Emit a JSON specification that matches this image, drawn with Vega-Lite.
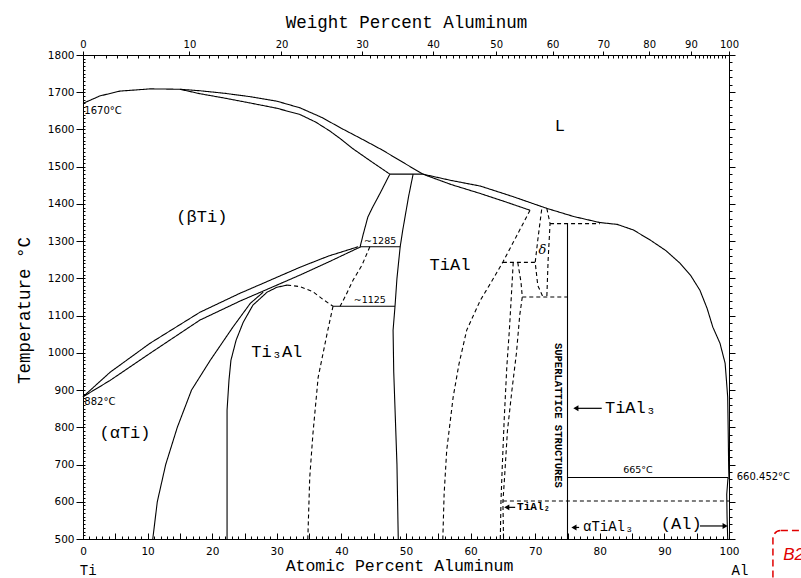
{
"$schema":"https://vega.github.io/schema/vega-lite/v6.json",
"width":646,"height":484,
"autosize":"none",
"padding":{"left":83,"top":55,"right":72,"bottom":39},
"background":"white",
"config":{"view":{"stroke":null},"axis":{"grid":false,"domainColor":"#000","domainWidth":1,"tickColor":"#000","tickWidth":1,"labelColor":"#000","titleColor":"#000","labelFont":"DejaVu Sans","labelFontSize":10.5,"titleFont":"Liberation Mono","titleFontSize":17.5,"titleFontWeight":"normal","labelFlush":false,"labelOverlap":false}},
"datasets":{
"lines":[
{"s":1,"d":"solid","o":1,"a":0,"t":1670},{"s":1,"d":"solid","o":2,"a":2.6,"t":1690},{"s":1,"d":"solid","o":3,"a":5.7,"t":1703},{"s":1,"d":"solid","o":4,"a":10.4,"t":1709},{"s":1,"d":"solid","o":5,"a":15,"t":1708},{"s":1,"d":"solid","o":6,"a":18.1,"t":1704},{"s":1,"d":"solid","o":7,"a":22,"t":1697},{"s":1,"d":"solid","o":8,"a":25.9,"t":1688},{"s":1,"d":"solid","o":9,"a":30,"t":1676},{"s":1,"d":"solid","o":10,"a":33.6,"t":1658},{"s":1,"d":"solid","o":11,"a":37,"t":1632},{"s":1,"d":"solid","o":12,"a":40,"t":1603},{"s":1,"d":"solid","o":13,"a":43.2,"t":1574},{"s":1,"d":"solid","o":14,"a":46.3,"t":1545},{"s":1,"d":"solid","o":15,"a":49.5,"t":1512},{"s":1,"d":"solid","o":16,"a":52.6,"t":1480},
{"s":2,"d":"solid","o":1,"a":15,"t":1708},{"s":2,"d":"solid","o":2,"a":18.1,"t":1696},{"s":2,"d":"solid","o":3,"a":22,"t":1684},{"s":2,"d":"solid","o":4,"a":25.9,"t":1671},{"s":2,"d":"solid","o":5,"a":30,"t":1657},{"s":2,"d":"solid","o":6,"a":33.6,"t":1640},{"s":2,"d":"solid","o":7,"a":36,"t":1620},{"s":2,"d":"solid","o":8,"a":38.2,"t":1596},{"s":2,"d":"solid","o":9,"a":40,"t":1573},{"s":2,"d":"solid","o":10,"a":41.8,"t":1548},{"s":2,"d":"solid","o":11,"a":44.7,"t":1513},{"s":2,"d":"solid","o":12,"a":47.5,"t":1480},
{"s":3,"d":"solid","o":1,"a":47.5,"t":1480},{"s":3,"d":"solid","o":2,"a":52.6,"t":1480},
{"s":4,"d":"solid","o":1,"a":47.5,"t":1480},{"s":4,"d":"solid","o":2,"a":46.0,"t":1429},{"s":4,"d":"solid","o":3,"a":44.8,"t":1390},{"s":4,"d":"solid","o":4,"a":44.1,"t":1365},{"s":4,"d":"solid","o":5,"a":43.4,"t":1320},{"s":4,"d":"solid","o":6,"a":42.9,"t":1285},
{"s":5,"d":"solid","o":1,"a":51.1,"t":1480},{"s":5,"d":"solid","o":2,"a":50.4,"t":1420},{"s":5,"d":"solid","o":3,"a":50.0,"t":1380},{"s":5,"d":"solid","o":4,"a":49.5,"t":1330},{"s":5,"d":"solid","o":5,"a":49.1,"t":1285},{"s":5,"d":"solid","o":6,"a":48.6,"t":1200},{"s":5,"d":"solid","o":7,"a":48.3,"t":1125},{"s":5,"d":"solid","o":8,"a":48.0,"t":1061},{"s":5,"d":"solid","o":9,"a":48.1,"t":950},{"s":5,"d":"solid","o":10,"a":48.4,"t":800},{"s":5,"d":"solid","o":11,"a":48.6,"t":700},{"s":5,"d":"solid","o":12,"a":48.8,"t":500},
{"s":6,"d":"solid","o":1,"a":42.9,"t":1285},{"s":6,"d":"solid","o":2,"a":49.1,"t":1285},
{"s":7,"d":"solid","o":1,"a":38.7,"t":1125},{"s":7,"d":"solid","o":2,"a":48.3,"t":1125},
{"s":8,"d":"solid","o":1,"a":0,"t":882},{"s":8,"d":"solid","o":2,"a":4.2,"t":948},{"s":8,"d":"solid","o":3,"a":10.4,"t":1026},{"s":8,"d":"solid","o":4,"a":18.1,"t":1109},{"s":8,"d":"solid","o":5,"a":24.3,"t":1160},{"s":8,"d":"solid","o":6,"a":27.9,"t":1187},{"s":8,"d":"solid","o":7,"a":33.6,"t":1230},{"s":8,"d":"solid","o":8,"a":38,"t":1260},{"s":8,"d":"solid","o":9,"a":42.6,"t":1285},
{"s":9,"d":"solid","o":1,"a":0,"t":882},{"s":9,"d":"solid","o":2,"a":4.2,"t":926},{"s":9,"d":"solid","o":3,"a":10.4,"t":999},{"s":9,"d":"solid","o":4,"a":18.1,"t":1088},{"s":9,"d":"solid","o":5,"a":24.3,"t":1139},{"s":9,"d":"solid","o":6,"a":27.9,"t":1166},{"s":9,"d":"solid","o":7,"a":33.6,"t":1209},{"s":9,"d":"solid","o":8,"a":38.5,"t":1248},{"s":9,"d":"solid","o":9,"a":43.0,"t":1285},
{"s":10,"d":"solid","o":1,"a":10.8,"t":500},{"s":10,"d":"solid","o":2,"a":11.5,"t":600},{"s":10,"d":"solid","o":3,"a":12.8,"t":700},{"s":10,"d":"solid","o":4,"a":14.6,"t":800},{"s":10,"d":"solid","o":5,"a":16.8,"t":900},{"s":10,"d":"solid","o":6,"a":19.7,"t":980},{"s":10,"d":"solid","o":7,"a":23.2,"t":1069},{"s":10,"d":"solid","o":8,"a":25.9,"t":1133},{"s":10,"d":"solid","o":9,"a":27.9,"t":1163},
{"s":11,"d":"solid","o":1,"a":22.3,"t":500},{"s":11,"d":"solid","o":2,"a":22.3,"t":846},{"s":11,"d":"solid","o":3,"a":22.6,"t":927},{"s":11,"d":"solid","o":4,"a":22.9,"t":980},{"s":11,"d":"solid","o":5,"a":23.7,"t":1034},{"s":11,"d":"solid","o":6,"a":24.8,"t":1082},{"s":11,"d":"solid","o":7,"a":26.3,"t":1128},{"s":11,"d":"solid","o":8,"a":28.5,"t":1163},{"s":11,"d":"solid","o":9,"a":30.0,"t":1176},{"s":11,"d":"solid","o":10,"a":31.6,"t":1182},
{"s":12,"d":"dashed","o":1,"a":31.6,"t":1182},{"s":12,"d":"dashed","o":2,"a":33.6,"t":1178},{"s":12,"d":"dashed","o":3,"a":35.6,"t":1164},{"s":12,"d":"dashed","o":4,"a":37.2,"t":1143},{"s":12,"d":"dashed","o":5,"a":38.7,"t":1125},
{"s":13,"d":"dashed","o":1,"a":44.4,"t":1285},{"s":13,"d":"dashed","o":2,"a":43.2,"t":1236},{"s":13,"d":"dashed","o":3,"a":41.8,"t":1195},{"s":13,"d":"dashed","o":4,"a":40.7,"t":1155},{"s":13,"d":"dashed","o":5,"a":39.8,"t":1125},
{"s":14,"d":"dashed","o":1,"a":38.7,"t":1125},{"s":14,"d":"dashed","o":2,"a":37.8,"t":1053},{"s":14,"d":"dashed","o":3,"a":36.4,"t":934},{"s":14,"d":"dashed","o":4,"a":35.6,"t":784},{"s":14,"d":"dashed","o":5,"a":35.1,"t":666},{"s":14,"d":"dashed","o":6,"a":34.8,"t":500},
{"s":15,"d":"solid","o":1,"a":52.6,"t":1480},{"s":15,"d":"solid","o":2,"a":57,"t":1463},{"s":15,"d":"solid","o":3,"a":61.5,"t":1448},{"s":15,"d":"solid","o":4,"a":66.5,"t":1420},{"s":15,"d":"solid","o":5,"a":71.8,"t":1388},{"s":15,"d":"solid","o":6,"a":76,"t":1366},{"s":15,"d":"solid","o":7,"a":80,"t":1350},{"s":15,"d":"solid","o":8,"a":82.7,"t":1345},{"s":15,"d":"solid","o":9,"a":85.2,"t":1330},{"s":15,"d":"solid","o":10,"a":87.8,"t":1303},{"s":15,"d":"solid","o":11,"a":90.2,"t":1275},{"s":15,"d":"solid","o":12,"a":92.4,"t":1241},{"s":15,"d":"solid","o":13,"a":94.1,"t":1207},{"s":15,"d":"solid","o":14,"a":95.5,"t":1168},{"s":15,"d":"solid","o":15,"a":96.6,"t":1120},{"s":15,"d":"solid","o":16,"a":97.5,"t":1069},{"s":15,"d":"solid","o":17,"a":98.6,"t":1026},{"s":15,"d":"solid","o":18,"a":99.4,"t":972},{"s":15,"d":"solid","o":19,"a":99.8,"t":881},{"s":15,"d":"solid","o":20,"a":99.9,"t":760},{"s":15,"d":"solid","o":21,"a":99.95,"t":690},{"s":15,"d":"solid","o":22,"a":100,"t":660.452},
{"s":16,"d":"solid","o":1,"a":52.6,"t":1480},{"s":16,"d":"solid","o":2,"a":57,"t":1452},{"s":16,"d":"solid","o":3,"a":61.5,"t":1428},{"s":16,"d":"solid","o":4,"a":65.5,"t":1405},{"s":16,"d":"solid","o":5,"a":69.2,"t":1383},
{"s":17,"d":"dashed","o":1,"a":69.2,"t":1383},{"s":17,"d":"dashed","o":2,"a":67,"t":1310},{"s":17,"d":"dashed","o":3,"a":65,"t":1244},{"s":17,"d":"dashed","o":4,"a":63.2,"t":1190},{"s":17,"d":"dashed","o":5,"a":61.5,"t":1141},{"s":17,"d":"dashed","o":6,"a":59.4,"t":1061},{"s":17,"d":"dashed","o":7,"a":58.2,"t":970},{"s":17,"d":"dashed","o":8,"a":57.3,"t":881},{"s":17,"d":"dashed","o":9,"a":56.3,"t":738},{"s":17,"d":"dashed","o":10,"a":55.9,"t":620},{"s":17,"d":"dashed","o":11,"a":55.7,"t":500},
{"s":18,"d":"dashed","o":1,"a":65,"t":1243},{"s":18,"d":"dashed","o":2,"a":70,"t":1243},
{"s":19,"d":"dashed","o":1,"a":71.0,"t":1385},{"s":19,"d":"dashed","o":2,"a":70.4,"t":1303},{"s":19,"d":"dashed","o":3,"a":70.0,"t":1243},{"s":19,"d":"dashed","o":4,"a":70.4,"t":1181},{"s":19,"d":"dashed","o":5,"a":71.2,"t":1150},
{"s":20,"d":"dashed","o":1,"a":71.8,"t":1388},{"s":20,"d":"dashed","o":2,"a":72.3,"t":1347},{"s":20,"d":"dashed","o":3,"a":72.0,"t":1249},{"s":20,"d":"dashed","o":4,"a":71.8,"t":1150},
{"s":21,"d":"dashed","o":1,"a":72.3,"t":1347},{"s":21,"d":"dashed","o":2,"a":80,"t":1347},
{"s":22,"d":"solid","o":1,"a":75,"t":1347},{"s":22,"d":"solid","o":2,"a":75,"t":500},
{"s":23,"d":"dashed","o":1,"a":68,"t":1150},{"s":23,"d":"dashed","o":2,"a":75,"t":1150},
{"s":24,"d":"dashed","o":1,"a":66.6,"t":1243},{"s":24,"d":"dashed","o":2,"a":66.3,"t":1150},{"s":24,"d":"dashed","o":3,"a":66.0,"t":1061},{"s":24,"d":"dashed","o":4,"a":65.6,"t":961},{"s":24,"d":"dashed","o":5,"a":65.2,"t":820},{"s":24,"d":"dashed","o":6,"a":64.9,"t":693},{"s":24,"d":"dashed","o":7,"a":64.7,"t":600},{"s":24,"d":"dashed","o":8,"a":64.6,"t":500},
{"s":25,"d":"dashed","o":1,"a":67.3,"t":1243},{"s":25,"d":"dashed","o":2,"a":67.8,"t":1190},{"s":25,"d":"dashed","o":3,"a":68.0,"t":1150},{"s":25,"d":"dashed","o":4,"a":67.6,"t":1100},{"s":25,"d":"dashed","o":5,"a":67.1,"t":1000},{"s":25,"d":"dashed","o":6,"a":66.4,"t":900},{"s":25,"d":"dashed","o":7,"a":65.7,"t":790},{"s":25,"d":"dashed","o":8,"a":65.2,"t":650},{"s":25,"d":"dashed","o":9,"a":65.0,"t":600},{"s":25,"d":"dashed","o":10,"a":65.1,"t":500},
{"s":26,"d":"dashed","o":1,"a":65,"t":602},{"s":26,"d":"dashed","o":2,"a":100,"t":602},
{"s":27,"d":"solid","o":1,"a":75,"t":665},{"s":27,"d":"solid","o":2,"a":99.85,"t":665},
{"s":28,"d":"solid","o":1,"a":99.85,"t":665},{"s":28,"d":"solid","o":2,"a":99.65,"t":620},{"s":28,"d":"solid","o":3,"a":99.7,"t":560},{"s":28,"d":"solid","o":4,"a":99.8,"t":500}
],
"labels":[
{"k":"region","txt":"(βTi)","a":18.4,"t":1365},
{"k":"region","txt":"L","a":73.8,"t":1609},
{"k":"region","txt":"TiAl","a":56.8,"t":1236},
{"k":"region","txt":"Ti₃Al","a":30.0,"t":1002},
{"k":"region","txt":"(αTi)","a":6.5,"t":784},
{"k":"region","txt":"(Al)","a":92.6,"t":541},
{"k":"regionL","txt":"TiAl₃","a":80.8,"t":851},
{"k":"medL","txt":"αTiAl₃","a":77.4,"t":531},
{"k":"temp","txt":"1670°C","a":0.2,"t":1649},
{"k":"temp","txt":"882°C","a":0.2,"t":867},
{"k":"temp","txt":"660.452°C","a":101.2,"t":666},
{"k":"tempC","txt":"665°C","a":85.9,"t":684},
{"k":"tempC","txt":"~1285","a":46.0,"t":1300},
{"k":"tempC","txt":"~1125","a":44.4,"t":1141},
{"k":"tial2","txt":"TiAl₂","a":67.2,"t":585},
{"k":"delta","txt":"δ","a":71.1,"t":1276},
{"k":"vert","txt":"SUPERLATTICE STRUCTURES","a":73.5,"t":832},
{"k":"elem","txt":"Ti","a":0.8,"t":413},
{"k":"elem","txt":"Al","a":101.7,"t":413},
{"k":"b2","txt":"B2","a":108.4,"t":456}
],
"arrows":[
{"a":76.6,"a2":80.3,"t":851},
{"a":65.8,"a2":66.9,"t":585},
{"a":76.0,"a2":76.8,"t":531},
{"a":95.5,"a2":99.3,"t":535}
],
"heads":[
{"a":76.3,"t":851,"dir":"left"},
{"a":65.6,"t":585,"dir":"left"},
{"a":76.0,"t":531,"dir":"left"},
{"a":99.4,"t":535,"dir":"right"}
],
"box":[{"a":106.8,"a2":130,"t":523,"t2":350}]
},
"resolve":{"axis":{"x":"independent","y":"independent"}},
"layer":[
{"data":{"name":"lines"},"mark":{"type":"line","color":"#000","strokeWidth":1.1,"clip":false},
"encoding":{
"x":{"field":"a","type":"quantitative","scale":{"domain":[0,100],"nice":false,"zero":false},"axis":{"orient":"bottom","values":[0,10,20,30,40,50,60,70,80,90,100],"ticks":false,"labelPadding":7,"title":"Atomic Percent Aluminum","titleFontSize":16.5,"titlePadding":1,"titleX":316}},
"y":{"field":"t","type":"quantitative","scale":{"domain":[500,1800],"nice":false,"zero":false},"axis":{"orient":"left","format":"d","values":[500,600,700,800,900,1000,1100,1200,1300,1400,1500,1600,1700,1800],"tickSize":7,"labelPadding":2,"title":"Temperature °C","titlePadding":14,"titleY":255}},
"detail":{"field":"s","type":"nominal"},
"order":{"field":"o","type":"quantitative"},
"strokeDash":{"field":"d","type":"nominal","scale":{"domain":["solid","dashed"],"range":[[1,0],[4,3]]},"legend":null}
}},
{"data":{"name":"heads"},"mark":{"type":"point","opacity":0},
"encoding":{
"x":{"field":"a","type":"quantitative","scale":{"domain":[0,100],"nice":false,"zero":false},"axis":{"orient":"bottom","values":[0,1,2,3,4,5,6,7,8,9,10,11,12,13,14,15,16,17,18,19,20,21,22,23,24,25,26,27,28,29,30,31,32,33,34,35,36,37,38,39,40,41,42,43,44,45,46,47,48,49,50,51,52,53,54,55,56,57,58,59,60,61,62,63,64,65,66,67,68,69,70,71,72,73,74,75,76,77,78,79,80,81,82,83,84,85,86,87,88,89,90,91,92,93,94,95,96,97,98,99,100],"tickSize":-3,"labels":false,"domain":false,"title":null}},
"y":{"field":"t","type":"quantitative","scale":{"domain":[500,1800],"nice":false,"zero":false},"axis":{"orient":"left","values":[500,510,520,530,540,550,560,570,580,590,600,610,620,630,640,650,660,670,680,690,700,710,720,730,740,750,760,770,780,790,800,810,820,830,840,850,860,870,880,890,900,910,920,930,940,950,960,970,980,990,1000,1010,1020,1030,1040,1050,1060,1070,1080,1090,1100,1110,1120,1130,1140,1150,1160,1170,1180,1190,1200,1210,1220,1230,1240,1250,1260,1270,1280,1290,1300,1310,1320,1330,1340,1350,1360,1370,1380,1390,1400,1410,1420,1430,1440,1450,1460,1470,1480,1490,1500,1510,1520,1530,1540,1550,1560,1570,1580,1590,1600,1610,1620,1630,1640,1650,1660,1670,1680,1690,1700,1710,1720,1730,1740,1750,1760,1770,1780,1790,1800],"tickSize":-2,"labels":false,"domain":false,"title":null}}
}},
{"data":{"name":"heads"},"mark":{"type":"point","opacity":0},
"encoding":{
"x":{"field":"a","type":"quantitative","scale":{"domain":[0,100],"nice":false,"zero":false},"axis":{"orient":"bottom","values":[0,5,10,15,20,25,30,35,40,45,50,55,60,65,70,75,80,85,90,95,100],"tickSize":-6,"labels":false,"domain":false,"title":null}},
"y":{"field":"t","type":"quantitative","scale":{"domain":[500,1800],"nice":false,"zero":false},"axis":{"orient":"right","values":[500,520,540,560,580,600,620,640,660,680,700,720,740,760,780,800,820,840,860,880,900,920,940,960,980,1000,1020,1040,1060,1080,1100,1120,1140,1160,1180,1200,1220,1240,1260,1280,1300,1320,1340,1360,1380,1400,1420,1440,1460,1480,1500,1520,1540,1560,1580,1600,1620,1640,1660,1680,1700,1720,1740,1760,1780,1800],"tickSize":3,"labels":false,"domain":true,"title":null}}
}},
{"data":{"name":"heads"},"mark":{"type":"point","opacity":0},
"encoding":{
"x":{"field":"a","type":"quantitative","scale":{"domain":[0,100],"nice":false,"zero":false},"axis":{"orient":"top","values":[0,16.468,30.727,43.195,54.188,63.955,72.688,80.545,87.65,94.107,100],"tickSize":4,"labelPadding":2,"labelFontSize":10,"labelExpr":"datum.value < 1 ? '0' : datum.value < 20 ? '10' : datum.value < 35 ? '20' : datum.value < 50 ? '30' : datum.value < 60 ? '40' : datum.value < 68 ? '50' : datum.value < 76 ? '60' : datum.value < 84 ? '70' : datum.value < 90 ? '80' : datum.value < 97 ? '90' : '100'","title":"Weight Percent Aluminum","titlePadding":8,"domain":true}},
"y":{"field":"t","type":"quantitative","scale":{"domain":[500,1800],"nice":false,"zero":false},"axis":{"orient":"right","values":[500,600,700,800,900,1000,1100,1200,1300,1400,1500,1600,1700,1800],"tickSize":6,"labels":false,"domain":false,"title":null}}
}},
{"data":{"name":"heads"},"mark":{"type":"point","opacity":0},
"encoding":{
"x":{"field":"a","type":"quantitative","scale":{"domain":[0,100],"nice":false,"zero":false},"axis":{"orient":"top","values":[1.761,3.494,5.202,6.884,8.541,10.173,11.781,13.366,14.928,17.985,19.481,20.956,22.411,23.845,25.259,26.654,28.031,29.388,32.049,33.353,34.64,35.91,37.163,38.401,39.622,40.828,42.019,44.356,45.503,46.635,47.755,48.859,49.951,51.029,52.095,53.147,55.217,56.233,57.237,58.23,59.212,60.182,61.142,62.09,63.027,64.872,65.778,66.675,67.562,68.44,69.308,70.167,71.016,71.857,73.511,74.326,75.131,75.929,76.718,77.499,78.271,79.037,79.795,81.287,82.022,82.75,83.471,84.184,84.891,85.59,86.283,86.97,88.324,88.991,89.652,90.306,90.955,91.597,92.233,92.863,93.488,94.72,95.327,95.93,96.527,97.119,97.705,98.287,98.863,99.434],"tickSize":-3,"labels":false,"domain":false,"title":null}},
"y":{"field":"t","type":"quantitative","scale":{"domain":[500,1800],"nice":false,"zero":false},"axis":null}
}},
{"data":{"name":"arrows"},"mark":{"type":"rule","color":"#000","strokeWidth":1.2,"clip":false},
"encoding":{
"x":{"field":"a","type":"quantitative","scale":{"domain":[0,100],"nice":false,"zero":false},"axis":null},
"x2":{"field":"a2"},
"y":{"field":"t","type":"quantitative","scale":{"domain":[500,1800],"nice":false,"zero":false},"axis":null}
}},
{"data":{"name":"heads"},"mark":{"type":"point","filled":true,"color":"#000","opacity":1,"size":35,"clip":false},
"encoding":{
"x":{"field":"a","type":"quantitative","scale":{"domain":[0,100],"nice":false,"zero":false},"axis":null},
"y":{"field":"t","type":"quantitative","scale":{"domain":[500,1800],"nice":false,"zero":false},"axis":null},
"shape":{"field":"dir","type":"nominal","scale":{"domain":["left","right"],"range":["triangle-left","triangle-right"]},"legend":null}
}},
{"data":{"name":"box"},"mark":{"type":"rect","fill":null,"fillOpacity":0,"stroke":"#e00000","strokeWidth":1.5,"strokeDash":[7,4],"cornerRadius":8,"clip":false},
"encoding":{
"x":{"field":"a","type":"quantitative","scale":{"domain":[0,100],"nice":false,"zero":false},"axis":null},
"x2":{"field":"a2"},
"y":{"field":"t","type":"quantitative","scale":{"domain":[500,1800],"nice":false,"zero":false},"axis":null},
"y2":{"field":"t2"}
}},
{"data":{"name":"labels"},"transform":[{"filter":"datum.k === 'region'"}],"mark":{"type":"text","font":"Liberation Mono","fontSize":17,"align":"center","baseline":"middle","color":"#000"},
"encoding":{"x":{"field":"a","type":"quantitative","scale":{"domain":[0,100],"nice":false,"zero":false},"axis":null},"y":{"field":"t","type":"quantitative","scale":{"domain":[500,1800],"nice":false,"zero":false},"axis":null},"text":{"field":"txt"}}},
{"data":{"name":"labels"},"transform":[{"filter":"datum.k === 'regionL'"}],"mark":{"type":"text","font":"Liberation Mono","fontSize":17,"align":"left","baseline":"middle","color":"#000"},
"encoding":{"x":{"field":"a","type":"quantitative","scale":{"domain":[0,100],"nice":false,"zero":false},"axis":null},"y":{"field":"t","type":"quantitative","scale":{"domain":[500,1800],"nice":false,"zero":false},"axis":null},"text":{"field":"txt"}}},
{"data":{"name":"labels"},"transform":[{"filter":"datum.k === 'medL'"}],"mark":{"type":"text","font":"Liberation Mono","fontSize":14,"align":"left","baseline":"middle","color":"#000"},
"encoding":{"x":{"field":"a","type":"quantitative","scale":{"domain":[0,100],"nice":false,"zero":false},"axis":null},"y":{"field":"t","type":"quantitative","scale":{"domain":[500,1800],"nice":false,"zero":false},"axis":null},"text":{"field":"txt"}}},
{"data":{"name":"labels"},"transform":[{"filter":"datum.k === 'temp'"}],"mark":{"type":"text","font":"DejaVu Sans","fontSize":10,"align":"left","baseline":"middle","color":"#000"},
"encoding":{"x":{"field":"a","type":"quantitative","scale":{"domain":[0,100],"nice":false,"zero":false},"axis":null},"y":{"field":"t","type":"quantitative","scale":{"domain":[500,1800],"nice":false,"zero":false},"axis":null},"text":{"field":"txt"}}},
{"data":{"name":"labels"},"transform":[{"filter":"datum.k === 'tempC'"}],"mark":{"type":"text","font":"DejaVu Sans","fontSize":9.5,"align":"center","baseline":"middle","color":"#000"},
"encoding":{"x":{"field":"a","type":"quantitative","scale":{"domain":[0,100],"nice":false,"zero":false},"axis":null},"y":{"field":"t","type":"quantitative","scale":{"domain":[500,1800],"nice":false,"zero":false},"axis":null},"text":{"field":"txt"}}},
{"data":{"name":"labels"},"transform":[{"filter":"datum.k === 'tial2'"}],"mark":{"type":"text","font":"Liberation Mono","fontSize":11,"fontWeight":"bold","align":"left","baseline":"middle","color":"#000"},
"encoding":{"x":{"field":"a","type":"quantitative","scale":{"domain":[0,100],"nice":false,"zero":false},"axis":null},"y":{"field":"t","type":"quantitative","scale":{"domain":[500,1800],"nice":false,"zero":false},"axis":null},"text":{"field":"txt"}}},
{"data":{"name":"labels"},"transform":[{"filter":"datum.k === 'delta'"}],"mark":{"type":"text","font":"DejaVu Serif","fontSize":13,"fontStyle":"italic","align":"center","baseline":"middle","color":"#000"},
"encoding":{"x":{"field":"a","type":"quantitative","scale":{"domain":[0,100],"nice":false,"zero":false},"axis":null},"y":{"field":"t","type":"quantitative","scale":{"domain":[500,1800],"nice":false,"zero":false},"axis":null},"text":{"field":"txt"}}},
{"data":{"name":"labels"},"transform":[{"filter":"datum.k === 'vert'"}],"mark":{"type":"text","font":"Liberation Mono","fontSize":10.5,"fontWeight":"bold","angle":90,"align":"center","baseline":"middle","color":"#000"},
"encoding":{"x":{"field":"a","type":"quantitative","scale":{"domain":[0,100],"nice":false,"zero":false},"axis":null},"y":{"field":"t","type":"quantitative","scale":{"domain":[500,1800],"nice":false,"zero":false},"axis":null},"text":{"field":"txt"}}},
{"data":{"name":"labels"},"transform":[{"filter":"datum.k === 'elem'"}],"mark":{"type":"text","font":"Liberation Mono","fontSize":14,"align":"center","baseline":"middle","color":"#000"},
"encoding":{"x":{"field":"a","type":"quantitative","scale":{"domain":[0,100],"nice":false,"zero":false},"axis":null},"y":{"field":"t","type":"quantitative","scale":{"domain":[500,1800],"nice":false,"zero":false},"axis":null},"text":{"field":"txt"}}},
{"data":{"name":"labels"},"transform":[{"filter":"datum.k === 'b2'"}],"mark":{"type":"text","font":"Liberation Sans","fontSize":17,"fontStyle":"italic","align":"left","baseline":"middle","color":"#e00000"},
"encoding":{"x":{"field":"a","type":"quantitative","scale":{"domain":[0,100],"nice":false,"zero":false},"axis":null},"y":{"field":"t","type":"quantitative","scale":{"domain":[500,1800],"nice":false,"zero":false},"axis":null},"text":{"field":"txt"}}}
]
}
